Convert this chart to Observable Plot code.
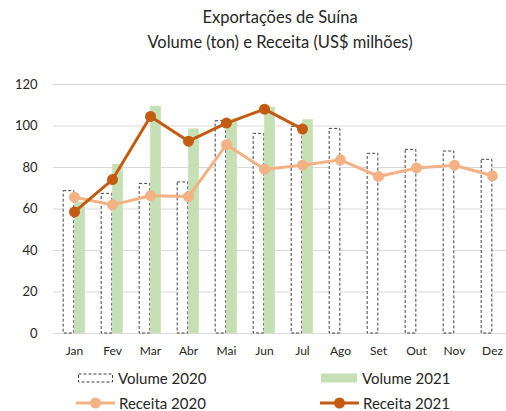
<!DOCTYPE html>
<html><head><meta charset="utf-8">
<script src="https://cdn.jsdelivr.net/npm/d3@7"></script>
<script src="https://cdn.jsdelivr.net/npm/@observablehq/plot@0.6"></script>
<style>
body{margin:0;background:#fff;font-family:Lato,"Open Sans",sans-serif;}
#wrap{position:relative;width:506px;height:411px;overflow:hidden;}
#title{position:absolute;top:5px;left:20px;width:520px;text-align:center;font-size:16.5px;line-height:25px;color:#262626;}
#chart{position:absolute;top:62px;left:0;}
.lg{position:absolute;font-size:15px;color:#262626;display:flex;align-items:center;white-space:nowrap;}
.lg svg{margin-right:4px;}
</style></head>
<body><div id="wrap">
<div id="title">Exportações de Suína<br>Volume (ton) e Receita (US$ milhões)</div>
<div id="chart"></div>
<div id="legend"></div>
</div>
<script>
const months = ["Jan","Fev","Mar","Abr","Mai","Jun","Jul","Ago","Set","Out","Nov","Dez"];
const volume2020 = [68.6,67.3,72.1,72.8,102.3,96.2,99.6,98.6,86.6,88.5,87.7,83.7];
const volume2021 = [63.3,81.4,109.5,98.6,102.6,109.0,103.0];
const receita2020 = [65.7,62.0,66.4,66.0,91.0,79.2,81.1,83.7,75.7,79.8,81.1,76.0];
const receita2021 = [58.6,74.2,104.6,92.7,101.4,108.1,98.5];
const yTicks = [0,20,40,60,80,100,120];

const colV21 = "#c5e0b4", colR20 = "#f4b183", colR21 = "#c55a11";

const v20 = months.map((m,i)=>({m, v: volume2020[i]}));
const v21 = volume2021.map((v,i)=>({m: months[i], v}));
const r20 = receita2020.map((v,i)=>({m: months[i], v}));
const r21 = receita2021.map((v,i)=>({m: months[i], v}));

const x0 = 53, x1 = 513;
const bw = (x1 - x0) / months.length;
const half = bw / 2, barW = 11;

const chart = Plot.plot({
  width: 506, height: 300,
  marginTop: 22, marginBottom: 29, marginLeft: 53, marginRight: 0,
  style: {fontFamily: "Lato, 'Open Sans', sans-serif", fontSize: "13px", color: "#262626", overflow: "hidden"},
  x: {type: "band", domain: months, range: [x0, x1], padding: 0, label: null},
  y: {domain: [0, 120], label: null},
  marks: [
    Plot.gridY(yTicks, {stroke: "#d9d9d9", strokeOpacity: 1}),
    Plot.barY(v20, {x: "m", y: "v", fill: "white", stroke: "#404040", strokeWidth: 1, strokeDasharray: "3,2",
      insetLeft: half - barW, insetRight: half}),
    Plot.barY(v21, {x: "m", y: "v", fill: colV21, insetLeft: half, insetRight: half - barW}),
    Plot.line(r20, {x: "m", y: "v", stroke: colR20, strokeWidth: 3}),
    Plot.dot(r20, {x: "m", y: "v", fill: colR20, r: 5.5}),
    Plot.line(r21, {x: "m", y: "v", stroke: colR21, strokeWidth: 3}),
    Plot.dot(r21, {x: "m", y: "v", fill: colR21, r: 5.5}),
    Plot.axisY({ticks: yTicks, tickSize: 0, tickPadding: 16, fontSize: 13}),
    Plot.axisX({tickSize: 0, tickPadding: 13, fontSize: 12})
  ]
});
document.getElementById("chart").appendChild(chart);

const legendItems = [
  {label: "Volume 2020", left: 78, top: 369, kind: "dash"},
  {label: "Volume 2021", left: 321, top: 369, kind: "fill"},
  {label: "Receita 2020", left: 76, top: 394, kind: "line", color: colR20},
  {label: "Receita 2021", left: 320, top: 394, kind: "line", color: colR21}
];
const lg = document.getElementById("legend");
legendItems.forEach(it => {
  const d = document.createElement("div");
  d.className = "lg";
  d.style.left = it.left + "px";
  d.style.top = it.top + "px";
  d.style.height = "18px";
  let sw;
  if (it.kind === "dash") sw = `<svg width="36" height="18"><rect x="0.5" y="5" width="34" height="8" fill="white" stroke="#404040" stroke-dasharray="3,2"/></svg>`;
  else if (it.kind === "fill") sw = `<svg width="37" height="18"><rect x="0" y="4.5" width="36" height="9" fill="${colV21}"/></svg>`;
  else sw = `<svg width="39" height="18"><line x1="0" x2="39" y1="9" y2="9" stroke="${it.color}" stroke-width="3"/><circle cx="19.5" cy="9" r="5.5" fill="${it.color}"/></svg>`;
  d.innerHTML = sw + `<span>${it.label}</span>`;
  lg.appendChild(d);
});
</script>
</body></html>
